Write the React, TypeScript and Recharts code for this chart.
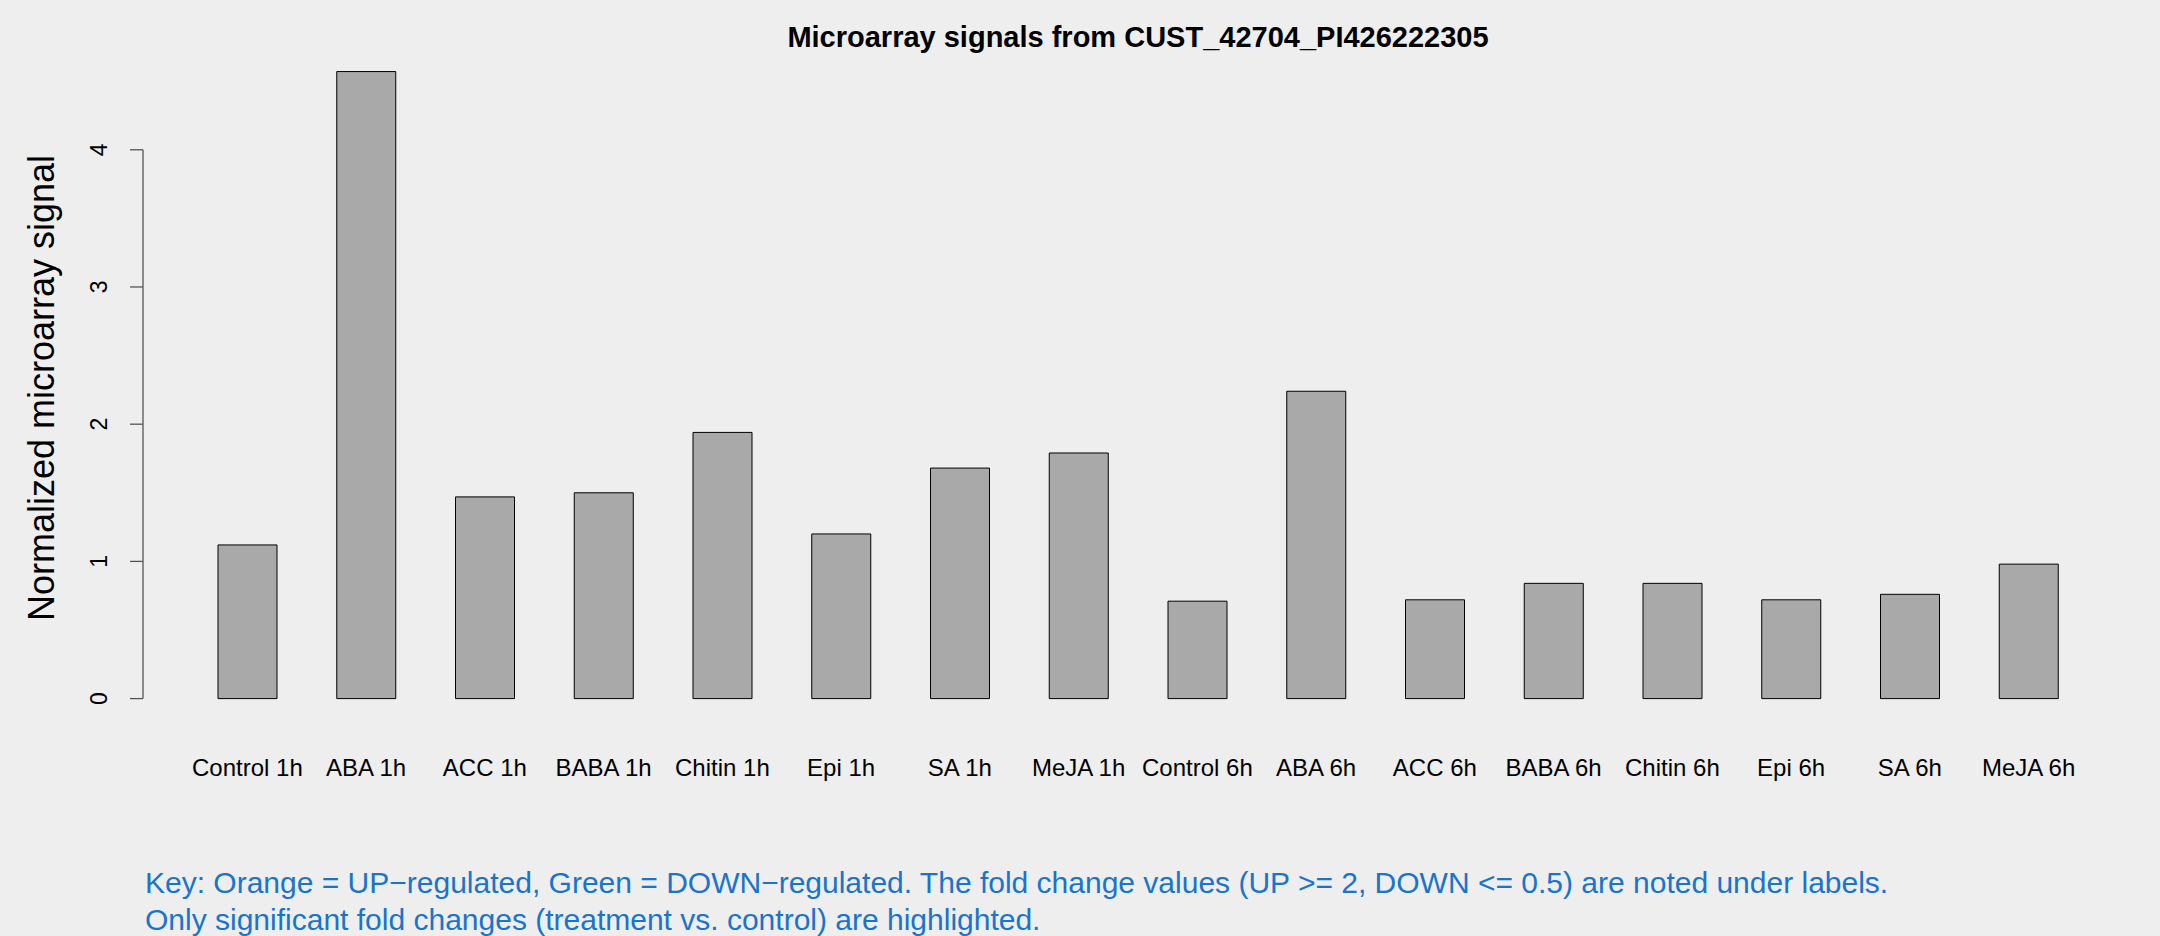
import { BarChart, Bar, XAxis, YAxis, ReferenceLine } from "recharts";

const categories = [
  "Control 1h", "ABA 1h", "ACC 1h", "BABA 1h", "Chitin 1h", "Epi 1h", "SA 1h", "MeJA 1h",
  "Control 6h", "ABA 6h", "ACC 6h", "BABA 6h", "Chitin 6h", "Epi 6h", "SA 6h", "MeJA 6h",
];
const signals = [1.12, 4.57, 1.47, 1.5, 1.94, 1.2, 1.68, 1.79, 0.71, 2.24, 0.72, 0.84, 0.84, 0.72, 0.76, 0.98];
const yTicks = [0, 1, 2, 3, 4];

const title = "Microarray signals from CUST_42704_PI426222305";
const yTitle = "Normalized microarray signal";
const keyLines = [
  "Key: Orange = UP\u2212regulated, Green = DOWN\u2212regulated. The fold change values (UP >= 2, DOWN <= 0.5) are noted under labels.",
  "Only significant fold changes (treatment vs. control) are highlighted.",
];

const data = categories.map((name, i) => ({ name, value: signals[i] }));

const FONT = "'Liberation Sans', Arial, Helvetica, sans-serif";

function YTick(props: any) {
  const { y, payload } = props;
  return (
    <text
      transform={`translate(107,${y}) rotate(-90)`}
      textAnchor="middle"
      fontSize={23}
      fontFamily={FONT}
      fill="#000"
    >
      {payload.value}
    </text>
  );
}

function XTick(props: any) {
  const { x, payload } = props;
  return (
    <text x={x} y={776} textAnchor="middle" fontSize={24} fontFamily={FONT} fill="#000">
      {payload.value}
    </text>
  );
}

export default function App() {
  return (
    <div style={{ position: "absolute", left: 0, top: 0, width: 2160, height: 936, background: "#EEEEEE" }}>
      <style>{"body{margin:0;background:#EEEEEE}"}</style>
      <BarChart
        width={2160}
        height={936}
        data={data}
        margin={{ top: 40, right: 72, bottom: 137.4, left: 0 }}
      >
        <XAxis
          dataKey="name"
          height={100}
          padding={{ left: 45, right: 0 }}
          axisLine={false}
          tickLine={false}
          interval={0}
          tick={<XTick />}
        />
        <XAxis xAxisId="ax" type="number" domain={[0, 1]} hide />
        <YAxis
          width={143}
          domain={[0, 4.8]}
          ticks={yTicks}
          axisLine={false}
          tickLine={{ stroke: "#555", strokeWidth: 1.3 }}
          tickSize={13}
          tick={<YTick />}
        />
        <ReferenceLine
          xAxisId="ax"
          segment={[{ x: 0, y: 0 }, { x: 0, y: 4 }]}
          stroke="#555"
          strokeWidth={1.3}
          ifOverflow="visible"
        />
        <Bar dataKey="value" barSize={59} fill="#A9A9A9" stroke="#000" strokeWidth={1} isAnimationActive={false} />
      </BarChart>
      <svg width={2160} height={936} style={{ position: "absolute", left: 0, top: 0, pointerEvents: "none" }}>
        <text x={1138} y={47} textAnchor="middle" fontSize={29} fontWeight="bold" fontFamily={FONT} fill="#000">
          {title}
        </text>
        <text
          transform="translate(54,388) rotate(-90)"
          textAnchor="middle"
          fontSize={36}
          fontFamily={FONT}
          fill="#000"
        >
          {yTitle}
        </text>
        {keyLines.map((line, i) => (
          <text key={i} x={145} y={893 + i * 37} fontSize={30} fontFamily={FONT} fill="#1874CD">
            {line}
          </text>
        ))}
      </svg>
    </div>
  );
}
